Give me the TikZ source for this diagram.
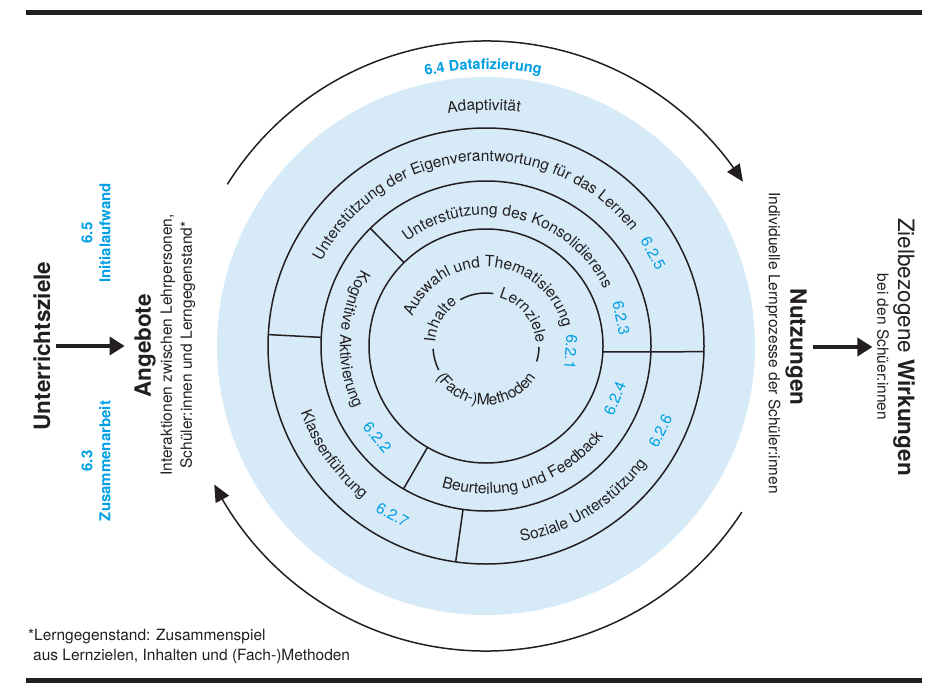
\documentclass[tikz,border=0pt]{standalone}
\usepackage{fontspec}
\setmainfont{TeX Gyre Heros}
\usetikzlibrary{decorations.text,arrows.meta,bending}
\definecolor{discblue}{RGB}{214,234,248}
\definecolor{numblue}{RGB}{0,159,227}
\definecolor{ink}{RGB}{35,31,32}
\newcommand{\labfont}{\fontsize{15.5}{18}\selectfont}
\newcommand{\numfont}{\fontsize{15}{18}\selectfont\bfseries}
\newcommand{\titlefont}{\fontsize{22.5}{27}\selectfont}
\newcommand{\arctextcw}[5]{%
  \path[decorate,decoration={text along path,text align=center,text color=#1,text={#5}}]
    ({#2+#4}:#3) arc[start angle={#2+#4}, end angle={#2-#4}, radius=#3];}
\newcommand{\arctextccw}[5]{%
  \path[decorate,decoration={text along path,text align=center,text color=#1,text={#5}}]
    ({#2-#4}:#3) arc[start angle={#2-#4}, end angle={#2+#4}, radius=#3];}
\begin{document}
\begin{tikzpicture}[x=1pt,y=1pt,
  ringline/.style={draw=ink, line width=1.5pt},
  cyclearrow/.style={draw=ink, line width=1.5pt, -{Triangle[length=17pt,width=15pt]}},
  sidearrow/.style={draw=ink, line width=3.5pt, -{Triangle[length=15pt,width=18pt]}},
  bar/.style={draw=ink, line width=5pt},
  numlabel/.style={text=numblue, font=\labfont, inner sep=0pt},
  title/.style={text=ink, font=\titlefont},
  sub/.style={text=ink, font=\labfont}]
\useasboundingbox (0,0) rectangle (952,-690);
% bars
\draw[bar] (26,-13) -- (922,-13);
\draw[bar] (26,-680) -- (922,-680);

\begin{scope}[shift={(486,-346)}]
  \fill[discblue] (0,0) circle (269);
  % rings
  \draw[ringline] (0,0) circle (117);
  \draw[ringline] (0,0) circle (165);
  \draw[ringline] (0,0) circle (218);
  % dividers
  \draw[ringline] (177:165) -- (177:218);
  \draw[ringline] (-2.9:117) -- (-1.5:218);
  \draw[ringline] (262:165) -- (262:218);
  \draw[ringline] (134.5:117) -- (134.5:165);
  \draw[ringline] (240:117) -- (240:165);
  % inner dashes
  \draw[ringline] (82:53) arc[start angle=82, end angle=119, radius=53];
  \draw[ringline] (183:53) arc[start angle=183, end angle=207, radius=53];
  \draw[ringline] (-17:53) arc[start angle=-17, end angle=-1, radius=53];
  % inner texts
  \arctextcw{ink}{150}{51}{60}{|\labfont|Inhalte}
  \arctextcw{ink}{39}{50}{60}{|\labfont|Lernziele}
  \arctextccw{ink}{270}{59}{80}{|\labfont|(Fach-)Methoden}
  \arctextcw{ink}{86}{79}{88}{|\labfont|Auswahl und Thematisierung}
  \node[numlabel, rotate=-94] (n621) at (-4:85) {6.2.1};
  % ring 2
  \arctextcw{ink}{76.5}{131}{80}{|\labfont|Unterstützung des Konsolidierens}
  \node[numlabel, rotate=-78] (n623) at (11.7:138) {6.2.3};
  \arctextccw{ink}{177}{146}{60}{|\labfont|Kognitive Aktivierung}
  \node[numlabel, rotate=310] (n622) at (220:142) {6.2.2};
  \arctextccw{ink}{287.5}{148}{60}{|\labfont|Beurteilung und Feedback}
  \node[numlabel, rotate=68] (n624) at (338:139) {6.2.4};
  % ring 3
  \arctextcw{ink}{95.5}{185}{80}{|\labfont|Unterstützung der Eigenverantwortung für das Lernen}
  \node[numlabel, rotate=-61] (n625) at (29:191) {6.2.5};
  \arctextccw{ink}{215.5}{197}{40}{|\labfont|Klassenführung}
  \node[numlabel, rotate=331] (n627) at (241:193) {6.2.7};
  \arctextccw{ink}{302}{199}{40}{|\labfont|Soziale Unterstützung}
  \node[numlabel, rotate=64] (n626) at (334:194) {6.2.6};
  % outer band texts
  \arctextcw{ink}{90.5}{236}{40}{|\labfont|Adaptivität}
  \arctextcw{numblue}{90.6}{277}{40}{|\fontsize{14.5}{18}\selectfont\bfseries|6.4 Datafizierung}
  % cycle arrows
  \draw[cyclearrow] (148:305) arc[start angle=148, end angle=32.6, radius=305];
  \draw[cyclearrow] (-33:305) arc[start angle=-33, end angle=-153, radius=305];
\end{scope}

% left side
\node[title, font=\titlefont\bfseries, rotate=90, inner sep=5pt] (ziele) at (42,-346) {Unterrichtsziele};
\node[text=numblue, font=\numfont, rotate=90, align=center] (init) at (96,-233) {6.5\\Initialaufwand};
\node[text=numblue, font=\numfont, rotate=90, align=center] (zus) at (96,-461) {6.3\\Zusammenarbeit};
\node[title, font=\titlefont\bfseries, rotate=90, inner sep=9.5pt] (angebote) at (145,-346) {Angebote};
\node[sub, rotate=90, align=center, font=\fontsize{15.5}{20}\selectfont] (interakt) at (178,-345) {Interaktionen zwischen Lehrpersonen,\\Schüler:innen und Lerngegenstand*};
\draw[sidearrow] (ziele.south) -- (angebote.north);

% right side
\node[sub, rotate=-90] (lernproz) at (773,-343) {Individuelle Lernprozesse der Schüler:innen};
\node[title, font=\titlefont\bfseries, rotate=-90, inner sep=6.5pt] (nutz) at (796,-347) {Nutzungen};
\node[title, rotate=-90] (wirk) at (904,-347) {Zielbezogene \textbf{Wirkungen}};
\node[sub, rotate=-90, inner sep=4.4pt] (beiden) at (883,-347) {bei den Schüer:innen};
\draw[sidearrow] (nutz.north) -- (beiden.south);

% footnote
\node[sub, anchor=base west, inner sep=0pt] (fn1) at (28,-640) {*Lerngegenstand: Zusammenspiel};
\node[sub, anchor=base west, inner sep=0pt] (fn2) at (33,-660) {aus Lernzielen, Inhalten und (Fach-)Methoden};
\end{tikzpicture}
\end{document}
